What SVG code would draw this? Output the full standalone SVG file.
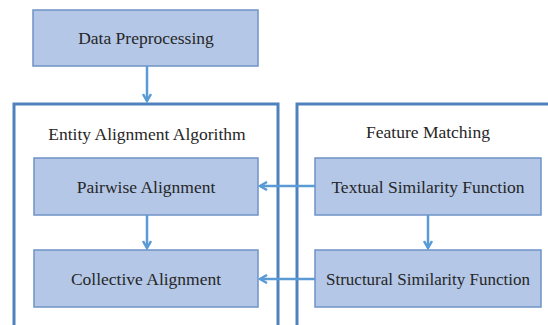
<svg xmlns="http://www.w3.org/2000/svg" width="548" height="325" viewBox="0 0 548 325">
<defs>
<style>
.box{fill:#b4c7e7;stroke:#6f93c6;stroke-width:1.5}
.cont{fill:#ffffff;stroke:#4f81bd;stroke-width:3}
.t{font-family:"Liberation Serif","Times New Roman",serif;font-size:17.5px;fill:#262626;text-anchor:middle;dominant-baseline:central}
.c{stroke:#5b9bd5;stroke-width:2.5;fill:none}
</style>
<marker id="ah" markerWidth="10" markerHeight="10" refX="8" refY="5" orient="auto" markerUnits="userSpaceOnUse">
<path d="M1,1 L8,5 L1,9" fill="none" stroke="#5b9bd5" stroke-width="2.5"/>
</marker>
</defs>
<rect width="548" height="325" fill="#ffffff"/>
<g id="entity-alignment-algorithm">
<rect class="cont" x="14" y="104" width="264" height="230"/>
<text class="t" x="147" y="134">Entity Alignment Algorithm</text>
</g>
<g id="feature-matching">
<rect class="cont" x="297" y="104" width="260" height="230"/>
<text class="t" x="428" y="132">Feature Matching</text>
</g>
<g id="data-preprocessing">
<rect class="box" x="33" y="10" width="225" height="56"/>
<text class="t" x="146" y="38">Data Preprocessing</text>
</g>
<g id="pairwise-alignment">
<rect class="box" x="34" y="158" width="224" height="57"/>
<text class="t" x="146" y="187">Pairwise Alignment</text>
</g>
<g id="collective-alignment">
<rect class="box" x="34" y="250" width="224" height="57"/>
<text class="t" x="146" y="279">Collective Alignment</text>
</g>
<g id="textual-similarity-function">
<rect class="box" x="315" y="158" width="226" height="57"/>
<text class="t" x="428" y="187">Textual Similarity Function</text>
</g>
<g id="structural-similarity-function">
<rect class="box" x="315" y="250" width="226" height="57"/>
<text class="t" x="428" y="279" style="font-size:17px">Structural Similarity Function</text>
</g>
<g id="connectors">
<line class="c" x1="147" y1="66" x2="147" y2="101" marker-end="url(#ah)"/>
<line class="c" x1="147" y1="215" x2="147" y2="248" marker-end="url(#ah)"/>
<line class="c" x1="428" y1="215" x2="428" y2="248" marker-end="url(#ah)"/>
<line class="c" x1="315" y1="186" x2="260" y2="186" marker-end="url(#ah)"/>
<line class="c" x1="315" y1="279" x2="260" y2="279" marker-end="url(#ah)"/>
</g>
</svg>
